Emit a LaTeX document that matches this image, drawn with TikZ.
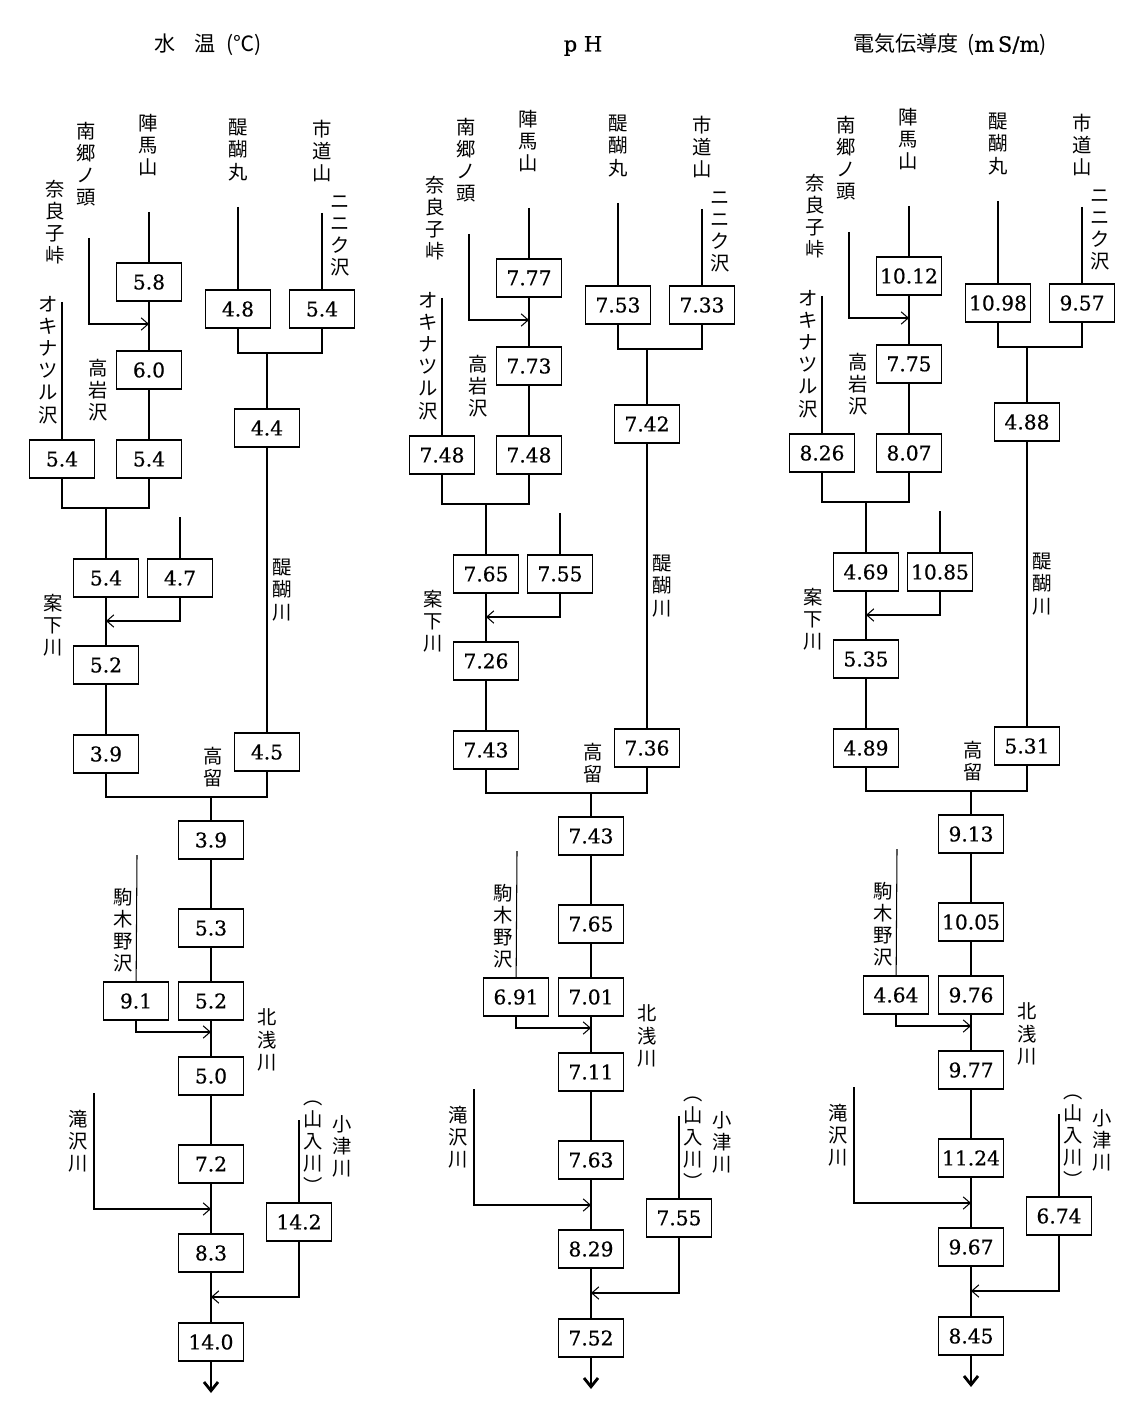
\documentclass[tikz,border=0pt]{standalone}
\usepackage{fontspec}
\newfontfamily\jpfont{Noto Sans CJK JP}
\newfontfamily\numfont[FakeBold=0.6]{DejaVu Serif}
\usetikzlibrary{arrows.meta}

\tikzset{
  val/.style={draw, line width=0.6pt, minimum width=1.3cm, minimum height=0.76cm,
    inner sep=0pt, font=\numfont\fontsize{11.5}{13}\selectfont},
  tate/.style={align=center, inner sep=0pt, font=\jpfont\fontsize{11}{12.6}\selectfont},
  heading/.style={inner sep=0pt, font=\jpfont\fontsize{12}{14}\selectfont},
  trib/.style={line width=0.6pt},
  mainstem/.style={line width=1.6pt},
  inflow/.style={trib, -{Straight Barb[length=4pt,width=7pt]}},
}

% one panel of the river network: #1 name prefix, #2 the 21 values, top to bottom
\newcommand{\riverpanel}[2]{%
  \foreach \va/\vb/\vc/\vd/\ve/\vf/\vg/\vh/\vi/\vj/\vk/\vl/\vm/\vn/\vo/\vp/\vq/\vr/\vs/\vt/\vu in {#2} {
    % stream names, written top to bottom
    \node[tate] (#1-lNango) at (86,164) {南\\郷\\ノ\\頭};
    \node[tate] (#1-lNara) at (55,222) {奈\\良\\子\\峠};
    \node[tate] (#1-lJinba) at (148,145) {陣\\馬\\山};
    \node[tate] (#1-lDaigo) at (238,150) {醍\\醐\\丸};
    \node[tate] (#1-lIchi) at (322,151) {市\\道\\山};
    \node[tate] (#1-lNini) at (340,236) {ニ\\ニ\\ク\\沢};
    \node[tate] (#1-lOkina) at (48,360) {オ\\キ\\ナ\\ツ\\ル\\沢};
    \node[tate] (#1-lTaka) at (98,390) {高\\岩\\沢};
    \node[tate] (#1-lAns) at (53,625) {案\\下\\川};
    \node[tate] (#1-lDgr) at (282,590) {醍\\醐\\川};
    \node[tate] (#1-lTkr) at (213,767) {高\\留};
    \node[tate] (#1-lKoma) at (123,930) {駒\\木\\野\\沢};
    \node[tate] (#1-lKita) at (267,1040) {北\\浅\\川};
    \node[tate] (#1-lTaki) at (78,1141) {滝\\沢\\川};
    \node[tate] (#1-lOzu) at (342,1146) {小\\津\\川};
    \node[tate] (#1-lYama) at (313,1147) {︵\\山\\入\\川\\︶};
    % heads of the streams
    \coordinate (#1-naraTop) at (89,238);
    \coordinate (#1-okinaTop) at (62,302);
    \coordinate (#1-jinbaTop) at (149,212);
    \coordinate (#1-sideTop) at (180,517);
    \coordinate (#1-daigoTop) at (238,207);
    \coordinate (#1-niniTop) at (322,213);
    \coordinate (#1-komaTop) at (137,855);
    \coordinate (#1-takiTop) at (94,1093);
    \coordinate (#1-ozuTop) at (299,1120);
    % confluences
    \coordinate (#1-naraIn) at (149,324);
    \coordinate (#1-jA) at (106,508);
    \coordinate (#1-sideIn) at (106,621);
    \coordinate (#1-jB) at (267,353);
    \coordinate (#1-jC) at (211,797);
    \coordinate (#1-komaIn) at (211,1032);
    \coordinate (#1-takiIn) at (211,1209);
    \coordinate (#1-ozuIn) at (211,1297);
    \coordinate (#1-mouth) at (211,1393);
    % measured values
    \node[val] (#1-jinba) at (149,282) {\va};
    \node[val] (#1-taka) at (149,370) {\vb};
    \node[val] (#1-takaB) at (149,459) {\vc};
    \node[val] (#1-okina) at (62,459) {\vd};
    \node[val] (#1-ansA) at (106,578) {\ve};
    \node[val] (#1-side) at (180,578) {\vf};
    \node[val] (#1-ansB) at (106,665) {\vg};
    \node[val] (#1-ansC) at (106,754) {\vh};
    \node[val] (#1-daigo) at (238,309) {\vi};
    \node[val] (#1-nini) at (322,309) {\vj};
    \node[val] (#1-dgrA) at (267,428) {\vk};
    \node[val] (#1-dgrB) at (267,752) {\vl};
    \node[val] (#1-tkA) at (211,840) {\vm};
    \node[val] (#1-tkB) at (211,928) {\vn};
    \node[val] (#1-koma) at (136,1001) {\vo};
    \node[val] (#1-tkC) at (211,1001) {\vp};
    \node[val] (#1-tkD) at (211,1076) {\vq};
    \node[val] (#1-tkE) at (211,1164) {\vr};
    \node[val] (#1-tkF) at (211,1253) {\vs};
    \node[val] (#1-ozu) at (299,1222) {\vt};
    \node[val] (#1-tkG) at (211,1342) {\vu};
    % upper tributaries
    \draw[trib] (#1-jinbaTop) -- (#1-jinba) -- (#1-taka) -- (#1-takaB);
    \draw[inflow] (#1-naraTop) |- (#1-naraIn);
    \draw[trib] (#1-okinaTop) -- (#1-okina);
    \draw[trib] (#1-okina) |- (#1-jA) -| (#1-takaB);
    \draw[trib] (#1-jA) -- (#1-ansA) -- (#1-ansB) -- (#1-ansC);
    \draw[trib] (#1-sideTop) -- (#1-side);
    \draw[inflow] (#1-side) |- (#1-sideIn);
    \draw[mainstem] (#1-daigoTop) -- (#1-daigo);
    \draw[trib] (#1-niniTop) -- (#1-nini);
    \draw[mainstem] (#1-daigo) |- (#1-jB);
    \draw[trib] (#1-jB) -| (#1-nini);
    \draw[mainstem] (#1-jB) -- (#1-dgrA) -- (#1-dgrB);
    % main stem below the confluence
    \draw[trib] (#1-ansC) |- (#1-jC);
    \draw[mainstem] (#1-dgrB) |- (#1-jC) -- (#1-tkA) -- (#1-tkB) -- (#1-tkC)
      -- (#1-tkD) -- (#1-tkE) -- (#1-tkF) -- (#1-tkG);
    \draw[mainstem, -{Straight Barb[length=5pt,width=8pt]}] (#1-tkG) -- (#1-mouth);
    \draw[trib] (#1-komaTop) -- (#1-koma);
    \draw[inflow] (#1-koma) |- (#1-komaIn);
    \draw[inflow] (#1-takiTop) |- (#1-takiIn);
    \draw[trib] (#1-ozuTop) -- (#1-ozu);
    \draw[inflow] (#1-ozu) |- (#1-ozuIn);
  }%
}

\begin{document}
\begin{tikzpicture}[x=0.02cm, y=-0.02cm]
  \useasboundingbox (0,0) rectangle (1136,1408);
  % panel headings
  \node[heading] (tWater) at (208,45) {水\hspace{0.9em}温\hspace{0.5em}(℃)};
  \node[heading, font=\numfont\fontsize{12}{14}\selectfont] (tPh) at (583,46) {p H};
  \node[heading] (tCond) at (950,45) {電気伝導度\hspace{0.4em}({\numfont m\,S/m})};
  % water temperature
  \riverpanel{a}{5.8/6.0/5.4/5.4/5.4/4.7/5.2/3.9/4.8/5.4/4.4/4.5/3.9/5.3/9.1/5.2/5.0/7.2/8.3/14.2/14.0}
  % pH
  \begin{scope}[shift={(380,-4)}]
    \riverpanel{b}{7.77/7.73/7.48/7.48/7.65/7.55/7.26/7.43/7.53/7.33/7.42/7.36/7.43/7.65/6.91/7.01/7.11/7.63/8.29/7.55/7.52}
  \end{scope}
  % electric conductivity
  \begin{scope}[shift={(760,-6)}]
    \riverpanel{c}{10.12/7.75/8.07/8.26/4.69/10.85/5.35/4.89/10.98/9.57/4.88/5.31/9.13/10.05/4.64/9.76/9.77/11.24/9.67/6.74/8.45}
  \end{scope}
\end{tikzpicture}
\end{document}
